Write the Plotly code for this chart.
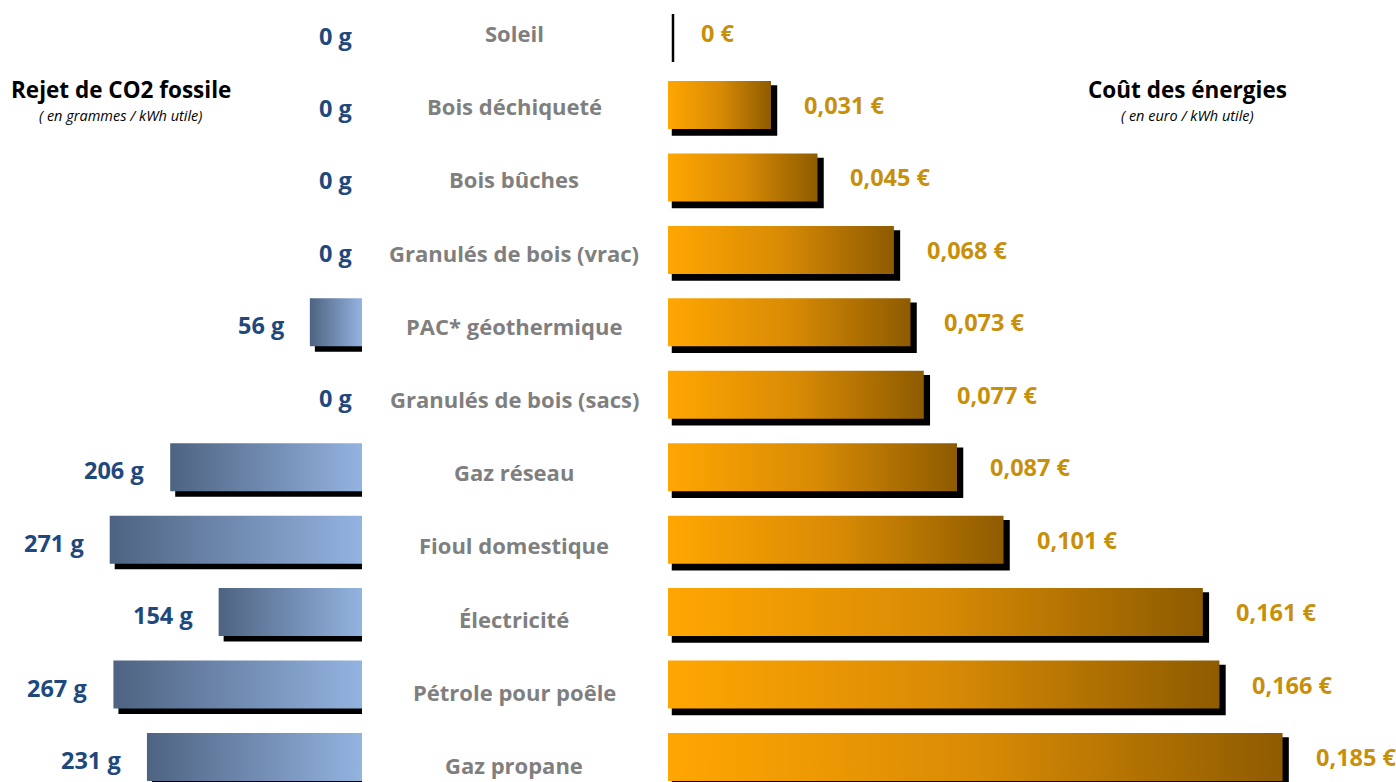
import plotly.graph_objects as go

# ---------------- data ----------------
categories = ["Soleil", "Bois déchiqueté", "Bois bûches", "Granulés de bois (vrac)",
              "PAC* géothermique", "Granulés de bois (sacs)", "Gaz réseau",
              "Fioul domestique", "Électricité", "Pétrole pour poêle", "Gaz propane"]
co2_g = [0, 0, 0, 0, 56, 0, 206, 271, 154, 267, 231]
cost_eur = [0, 0.031, 0.045, 0.068, 0.073, 0.077, 0.087, 0.101, 0.161, 0.166, 0.185]

left_title = "Rejet de CO2 fossile"
left_sub = "( en grammes / kWh utile)"
right_title = "Coût des énergies"
right_sub = "( en euro / kWh utile)"

# ---------------- styling / geometry ----------------
W, H = 1396, 782
FONT = "Open Sans"
ROW_PX = 72.44
Y_TOP = -32.6 / ROW_PX
Y_RANGE = [Y_TOP + H / ROW_PX, Y_TOP]
HALF = 24 / ROW_PX
SHADOW_DY = 5.5 / ROW_PX

R_PX_PER_UNIT = 3322.0
R_LEFT_PX = 668
R_RANGE = [0, (W - R_LEFT_PX) / R_PX_PER_UNIT]
R_SH_DX = 5 / R_PX_PER_UNIT

L_PX_PER_UNIT = 0.931
L_RIGHT_PX = 362
L_RANGE = [L_RIGHT_PX / L_PX_PER_UNIT, 0]
L_SH_DX = -5 / L_PX_PER_UNIT

ORANGE_SCALE = [[0, "#FFA602"], [0.5, "#D98B05"], [1, "#8E5B00"]]
BLUE_SCALE = [[0, "#4E6381"], [1, "#93B3E0"]]

fig = go.Figure()

# shadows
def shadow_trace(vals, dx, xaxis, lw):
    xs, ys = [], []
    for i, v in enumerate(vals):
        y0, y1 = i - HALF + SHADOW_DY, i + HALF + SHADOW_DY
        x0, x1 = 0 + dx, v + dx
        xs += [x0, x1, x1, x0, x0, None]
        ys += [y0, y0, y1, y1, y0, None]
    return go.Scatter(x=xs, y=ys, xaxis=xaxis, yaxis="y", mode="lines",
                      fill="toself", fillcolor="black",
                      line=dict(color="black", width=lw),
                      hoverinfo="skip", showlegend=False)

fig.add_trace(shadow_trace(co2_g, L_SH_DX, "x2", 0))
fig.add_trace(shadow_trace(cost_eur, R_SH_DX, "x", 2.5))

# gradient bars
for i, v in enumerate(cost_eur):
    if v <= 0:
        continue
    fig.add_trace(go.Scatter(
        x=[0, v, v, 0, 0], y=[i - HALF, i - HALF, i + HALF, i + HALF, i - HALF],
        xaxis="x", yaxis="y", mode="lines", line=dict(width=0),
        fill="toself", fillgradient=dict(type="horizontal", colorscale=ORANGE_SCALE),
        hoverinfo="skip", showlegend=False))
for i, v in enumerate(co2_g):
    if v <= 0:
        continue
    fig.add_trace(go.Scatter(
        x=[0, v, v, 0, 0], y=[i - HALF, i - HALF, i + HALF, i + HALF, i - HALF],
        xaxis="x2", yaxis="y", mode="lines", line=dict(width=0),
        fill="toself", fillgradient=dict(type="horizontal", colorscale=BLUE_SCALE),
        hoverinfo="skip", showlegend=False))

ann = []
# category labels (center column)
for i, c in enumerate(categories):
    ann.append(dict(x=514 / W, xref="paper", y=i, yref="y3", text=c, showarrow=False,
                    xanchor="center", yanchor="middle",
                    font=dict(family=FONT, size=22, color="#7F7F7F", weight="bold")))
# cost labels
for i, v in enumerate(cost_eur):
    txt = "0 €" if v == 0 else f"{v:.3f}".replace(".", ",") + " €"
    ann.append(dict(x=v, xref="x", y=i, yref="y", text=txt, showarrow=False,
                    xanchor="left", yanchor="middle", xshift=31,
                    font=dict(family=FONT, size=23.5, color="#C8900A", weight="bold")))
# co2 labels
for i, v in enumerate(co2_g):
    ann.append(dict(x=v, xref="x2", y=i, yref="y", text=f"{v} g", showarrow=False,
                    xanchor="right", yanchor="middle", xshift=(-24 if v > 0 else -8), yshift=-3,
                    font=dict(family=FONT, size=23.5, color="#1F497D", weight="bold")))
# titles
ann += [
    dict(x=121 / W, y=1 - 90 / H, xref="paper", yref="paper", text=left_title, showarrow=False,
         xanchor="center", yanchor="middle",
         font=dict(family=FONT, size=22.5, color="black", weight="bold")),
    dict(x=121 / W, y=1 - 115 / H, xref="paper", yref="paper", text=left_sub, showarrow=False,
         xanchor="center", yanchor="middle",
         font=dict(family=FONT, size=14.5, color="black", style="italic")),
    dict(x=1187 / W, y=1 - 90 / H, xref="paper", yref="paper", text=right_title, showarrow=False,
         xanchor="center", yanchor="middle",
         font=dict(family=FONT, size=22.5, color="black", weight="bold")),
    dict(x=1187 / W, y=1 - 115 / H, xref="paper", yref="paper", text=right_sub, showarrow=False,
         xanchor="center", yanchor="middle",
         font=dict(family=FONT, size=14.5, color="black", style="italic")),
]

CAT_ROW_PX = 73.2
cat_top = -33 / CAT_ROW_PX

fig.update_layout(
    width=W, height=H, margin=dict(l=0, r=0, t=0, b=0),
    paper_bgcolor="white", plot_bgcolor="white",
    xaxis=dict(domain=[R_LEFT_PX / W, 1], range=R_RANGE, visible=False, fixedrange=True),
    xaxis2=dict(domain=[0, L_RIGHT_PX / W], range=L_RANGE, visible=False, fixedrange=True,
                anchor="y"),
    yaxis=dict(range=Y_RANGE, visible=False, fixedrange=True),
    yaxis3=dict(range=[cat_top + H / CAT_ROW_PX, cat_top], visible=False,
                overlaying="y", fixedrange=True),
    annotations=ann,
    showlegend=False,
)

fig.write_html("out.html")
